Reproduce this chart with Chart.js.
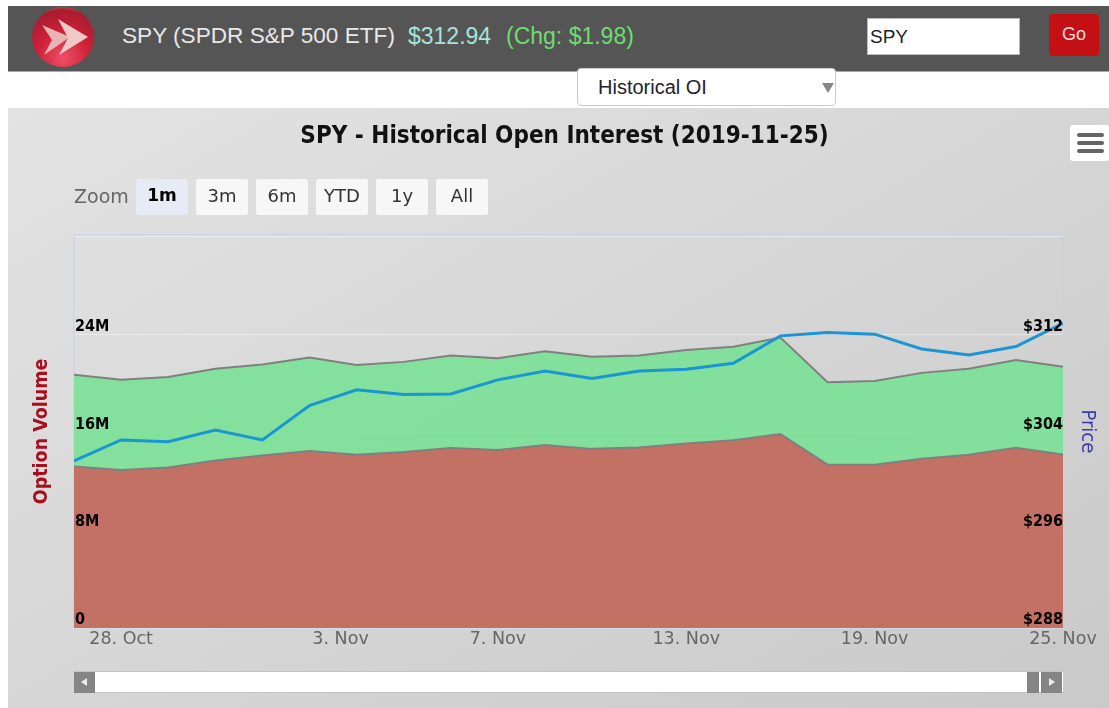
<!DOCTYPE html>
<html>
<head>
<meta charset="utf-8">
<title>SPY Historical Open Interest</title>
<script src="https://cdn.jsdelivr.net/npm/chart.js@4"></script>
<style>
  html, body { margin: 0; padding: 0; background: #fff; width: 1109px; height: 708px; overflow: hidden; }
  body { position: relative; font-family: "Liberation Sans", Arial, sans-serif; }
  .topbar { position: absolute; left: 8px; top: 6px; width: 1101px; height: 66px; background: #555; border-bottom: 1px solid #aaa; box-sizing: border-box; }
  .logo { position: absolute; left: 24px; top: 1px; width: 62px; height: 60px; border-radius: 50%;
    background: radial-gradient(circle at 50% 85%, #ee5068 0%, #cc2036 45%, #a81c30 80%, #d8a0a8 100%); }
  .logo svg { position: absolute; left: 0; top: 0; }
  .hdr { position: absolute; top: 17px; line-height: 26px; white-space: nowrap; }
  .symbolBox { position: absolute; left: 859px; top: 12px; width: 153px; height: 37px; background: #fff; border: 1px solid #bbb; box-sizing: border-box; font-size: 19px; line-height: 35px; padding-left: 2px; color: #222; }
  .goBtn { position: absolute; left: 1041px; top: 8px; width: 50px; height: 42px; background: #c41014; border-radius: 4px; color: #f2dede; font-size: 18px; line-height: 40px; text-align: center; }
  .pick { position: absolute; left: 577px; top: 68px; width: 259px; height: 38px; background: #fff; border: 1px solid #ccc; border-radius: 4px; box-sizing: border-box; font-size: 20px; line-height: 36px; padding-left: 20px; color: #223; z-index: 3; }
  .pick i { position: absolute; right: 1px; top: 14px; border-left: 6px solid transparent; border-right: 6px solid transparent; border-top: 10px solid #888; }
  .panel { position: absolute; left: 8px; top: 108px; width: 1101px; height: 600px; background: linear-gradient(150deg, #e3e3e3 0%, #c9c9c9 100%); }
  #chartWrap { position: absolute; left: 0; top: 0; width: 1101px; height: 600px; }
  .zoomLbl { position: absolute; left: 66px; top: 77px; font-family: "DejaVu Sans", Tahoma, sans-serif; font-size: 19px; color: #666; }
  .zbtn { position: absolute; top: 71px; width: 52px; height: 36px; background: #f7f7f7; border-radius: 2px; font-family: "DejaVu Sans", Tahoma, sans-serif; font-size: 18px; line-height: 33px; text-align: center; color: #333; }
  .zbtn.on { background: #e6ebf5; color: #000; font-weight: bold; font-size: 17px; }
  .menuBtn { position: absolute; left: 1062px; top: 17px; width: 39px; height: 36px; background: #fff; border-radius: 3px; }
  .menuBtn b { position: absolute; left: 7px; width: 27px; height: 4px; background: #666; border-radius: 2px; }
  .track { position: absolute; left: 66px; top: 563px; width: 989px; height: 22px; background: #fff; border-top: 1px solid #c4c4c4; border-bottom: 1px solid #c4c4c4; box-sizing: border-box; }
  .sb { position: absolute; top: 564px; height: 21px; background: #858585; }
  .sb i { position: absolute; top: 6px; }
</style>
</head>
<body>
<div class="topbar">
  <div class="logo">
    <svg width="62" height="60" viewBox="0 0 62 60">
      <path d="M10 18 L38 30 L12 48 L20 33 Z" fill="#e8b4b4"/>
      <path d="M26 12 L56 30 L27 48 L36 31 Z" fill="#f0c8c8"/>
    </svg>
  </div>
  <div class="hdr" style="left:114px;font-size:22.6px;color:#e8e8e8">SPY (SPDR S&amp;P 500 ETF)</div>
  <div class="hdr" style="left:400px;font-size:23px;color:#a6e3dc">$312.94</div>
  <div class="hdr" style="left:498px;font-size:23px;color:#6fdc6f">(Chg: $1.98)</div>
  <div class="symbolBox">SPY</div>
  <div class="goBtn">Go</div>
</div>
<div class="pick">Historical OI<i></i></div>
<div class="panel">
  <div id="chartWrap"><canvas id="oiChart" width="1101" height="600"></canvas></div>
  <div class="zoomLbl">Zoom</div>
  <div class="zbtn on" style="left:128px">1m</div>
  <div class="zbtn" style="left:188px">3m</div>
  <div class="zbtn" style="left:248px">6m</div>
  <div class="zbtn" style="left:308px">YTD</div>
  <div class="zbtn" style="left:368px">1y</div>
  <div class="zbtn" style="left:428px">All</div>
  <div class="menuBtn"><b style="top:8px"></b><b style="top:16px"></b><b style="top:24px"></b></div>
  <div class="track"></div>
  <div class="sb" style="left:66px;width:21px"><i style="left:7px;border-top:4px solid transparent;border-bottom:4px solid transparent;border-right:6px solid #eee"></i></div>
  <div class="sb" style="left:1019px;width:12px"></div>
  <div class="sb" style="left:1033px;width:21px"><i style="left:8px;border-top:4px solid transparent;border-bottom:4px solid transparent;border-left:6px solid #eee"></i></div>
</div>

<script>
  // dias de mercado, el eje es ordinal
  const tradingDays = ['25 Oct', '28 Oct', '29 Oct', '30 Oct', '31 Oct', '1 Nov', '4 Nov', '5 Nov', '6 Nov', '7 Nov', '8 Nov',
    '11 Nov', '12 Nov', '13 Nov', '14 Nov', '15 Nov', '18 Nov', '19 Nov', '20 Nov', '21 Nov', '22 Nov', '25 Nov'];

  const putOI = [13.21, 12.94, 13.13, 13.70, 14.11, 14.49, 14.17, 14.41, 14.74, 14.57, 14.98,
    14.66, 14.78, 15.11, 15.37, 15.88, 13.37, 13.37, 13.86, 14.17, 14.76, 14.19];
  const callOI = [7.51, 7.37, 7.42, 7.51, 7.45, 7.64, 7.36, 7.37, 7.57, 7.50, 7.66,
    7.53, 7.53, 7.65, 7.64, 7.89, 6.75, 6.85, 7.02, 7.04, 7.18, 7.18];
  const price = [301.67, 303.39, 303.25, 304.21, 303.39, 306.20, 307.49, 307.12, 307.16, 308.31, 309.04,
    308.43, 309.04, 309.17, 309.67, 311.91, 312.18, 312.05, 310.84, 310.35, 311.03, 312.94];

  const xTickSpots = [1, 5.66, 9, 13, 17, 21];
  const xTickLabels = ['28. Oct', '3. Nov', '7. Nov', '13. Nov', '19. Nov', '25. Nov'];
  const volumeTicks = [0, 8, 16, 24, 32];
  const volumeLabels = ['0', '8M', '16M', '24M', ''];
  const priceTicks = [288, 296, 304, 312, 320];
  const priceLabels = ['$288', '$296', '$304', '$312', ''];

  const titleFont = '"DejaVu Sans Condensed", Tahoma, sans-serif';

  const toPoints = arr => arr.map((v, i) => ({ x: i, y: v }));

  // marco del area del grafico
  const plotFrame = {
    id: 'plotFrame',
    beforeDatasetsDraw(chart) {
      const a = chart.chartArea, c = chart.ctx;
      c.save();
      c.strokeStyle = '#c5d0ea';
      c.lineWidth = 1;
      c.strokeRect(a.left, a.top, a.width, a.height);
      c.restore();
    }
  };

  new Chart(document.getElementById('oiChart'), {
    type: 'line',
    data: {
      datasets: [
        { label: 'Price', data: toPoints(price), yAxisID: 'y2', order: 0, borderColor: '#1b95d3', borderWidth: 3, pointRadius: 0, fill: false, tension: 0 },
        { label: 'Put OI', data: toPoints(putOI), yAxisID: 'y', order: 1, borderColor: '#808080', borderWidth: 2, backgroundColor: 'rgba(193,107,94,0.95)', pointRadius: 0, fill: 'origin', tension: 0 },
        { label: 'Call OI', data: toPoints(callOI), yAxisID: 'y', order: 2, borderColor: '#808080', borderWidth: 2, backgroundColor: 'rgba(124,225,152,0.93)', pointRadius: 0, fill: { target: 1 }, tension: 0 }
      ]
    },
    plugins: [plotFrame],
    options: {
      responsive: false,
      animation: false,
      layout: { padding: { left: 22, right: 10, top: 0, bottom: 50 } },
      plugins: {
        legend: { display: false },
        tooltip: { enabled: false },
        title: {
          display: true,
          text: 'SPY - Historical Open Interest (2019-11-25)',
          color: '#111',
          font: { family: titleFont, size: 24, weight: 'bold' },
          padding: { top: 14, bottom: 84 }
        }
      },
      scales: {
        x: {
          type: 'linear',
          min: 0,
          max: tradingDays.length - 1,
          afterBuildTicks(axis) { axis.ticks = xTickSpots.map(v => ({ value: v })); },
          afterFit(axis) { axis.height = 30; },
          grid: { display: false },
          border: { display: false },
          ticks: {
            autoSkip: false,
            maxRotation: 0,
            padding: -7,
            color: '#666',
            font: { family: '"DejaVu Sans", Tahoma, sans-serif', size: 17.5 },
            callback: (v, i) => xTickLabels[i]
          }
        },
        y: {
          position: 'left',
          stacked: true,
          min: 0,
          max: 32.18,
          afterBuildTicks(axis) { axis.ticks = volumeTicks.map(v => ({ value: v })); },
          afterFit(axis) { axis.width = 44; },
          title: { display: true, text: 'Option Volume', color: '#a80e1e', font: { family: titleFont, size: 19.5, weight: 'bold' }, padding: 0 },
          grid: { color: 'rgba(255,255,255,0.45)', drawTicks: false },
          border: { display: false },
          ticks: {
            mirror: true,
            z: 2,
            padding: 1,
            labelOffset: -8,
            color: '#000',
            font: { family: titleFont, size: 16, weight: 'bold' },
            callback: (v, i) => volumeLabels[i]
          }
        },
        y2: {
          position: 'right',
          min: 288,
          max: 320.18,
          afterBuildTicks(axis) { axis.ticks = priceTicks.map(v => ({ value: v })); },
          afterFit(axis) { axis.width = 36; },
          title: { display: true, text: 'Price', color: '#3c3ca8', font: { family: titleFont, size: 20 }, padding: 0 },
          grid: { display: false },
          border: { display: false },
          ticks: {
            mirror: true,
            z: 2,
            padding: 0,
            labelOffset: -8,
            color: '#000',
            font: { family: titleFont, size: 16, weight: 'bold' },
            callback: (v, i) => priceLabels[i]
          }
        }
      }
    }
  });
</script>
</body>
</html>
